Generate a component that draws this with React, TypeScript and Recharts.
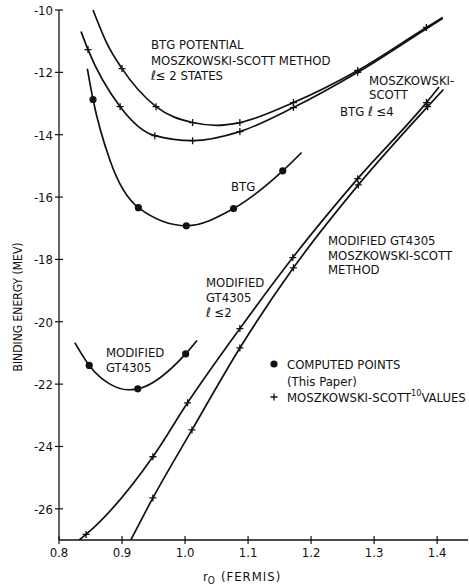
import React from 'react';
import { ComposedChart, Line, Scatter, XAxis, YAxis } from 'recharts';

// ---- axis ticks ----
const xTicks = [0.8, 0.9, 1.0, 1.1, 1.2, 1.3, 1.4];
const xTickLabels = ['0.8', '0.9', '1.0', '1.1', '1.2', '1.3', '1.4'];
const yTicks = [-10, -12, -14, -16, -18, -20, -22, -24, -26];
const yTickLabels = ['-10', '-12', '-14', '-16', '-18', '-20', '-22', '-24', '-26'];
const topTicks = [0.9, 1.0, 1.1, 1.2, 1.3, 1.4];
const rightTicks = [-12, -14, -16, -18, -20, -22, -24, -26];

// ---- BTG potential, Moszkowski-Scott method, l<=2 states (upper curve) ----
const btgL2Curve = [
  { x: 0.854, y: -10.0 }, { x: 0.876, y: -11.07 }, { x: 0.9, y: -11.88 },
  { x: 0.954, y: -13.1 }, { x: 1.012, y: -13.61 }, { x: 1.05, y: -13.7 },
  { x: 1.087, y: -13.61 }, { x: 1.172, y: -12.97 }, { x: 1.274, y: -11.94 },
  { x: 1.383, y: -10.56 }, { x: 1.409, y: -10.24 },
];
const btgL2Marks = [
  { x: 0.9, y: -11.88 }, { x: 0.954, y: -13.1 }, { x: 1.012, y: -13.61 },
  { x: 1.087, y: -13.61 }, { x: 1.172, y: -12.97 }, { x: 1.274, y: -11.94 },
  { x: 1.383, y: -10.56 },
];

// ---- Moszkowski-Scott BTG l<=4 (lower of upper pair) ----
const btgL4Curve = [
  { x: 0.835, y: -10.69 }, { x: 0.846, y: -11.27 }, { x: 0.897, y: -13.1 },
  { x: 0.952, y: -14.03 }, { x: 1.012, y: -14.19 }, { x: 1.087, y: -13.9 },
  { x: 1.172, y: -13.13 }, { x: 1.274, y: -12.0 }, { x: 1.383, y: -10.6 },
  { x: 1.409, y: -10.27 },
];
const btgL4Marks = [
  { x: 0.846, y: -11.27 }, { x: 0.897, y: -13.1 }, { x: 0.952, y: -14.03 },
  { x: 1.012, y: -14.19 }, { x: 1.087, y: -13.9 }, { x: 1.172, y: -13.13 },
  { x: 1.274, y: -12.0 },
];

// ---- BTG computed points ----
const btgCurve = [
  { x: 0.845, y: -11.88 }, { x: 0.854, y: -12.87 }, { x: 0.881, y: -14.83 },
  { x: 0.926, y: -16.34 }, { x: 1.002, y: -16.92 }, { x: 1.077, y: -16.37 },
  { x: 1.155, y: -15.16 }, { x: 1.185, y: -14.57 },
];
const btgDots = [
  { x: 0.854, y: -12.87 }, { x: 0.926, y: -16.34 }, { x: 1.002, y: -16.92 },
  { x: 1.077, y: -16.37 }, { x: 1.155, y: -15.16 },
];

// ---- Modified GT4305 computed points ----
const gtCurve = [
  { x: 0.825, y: -20.67 }, { x: 0.848, y: -21.4 }, { x: 0.881, y: -22.0 },
  { x: 0.909, y: -22.18 }, { x: 0.925, y: -22.15 }, { x: 1.001, y: -21.03 },
  { x: 1.019, y: -20.6 },
];
const gtDots = [
  { x: 0.848, y: -21.4 }, { x: 0.925, y: -22.15 }, { x: 1.001, y: -21.03 },
];

// ---- Modified GT4305 l<=2 (Moszkowski-Scott) ----
const gtL2Curve = [
  { x: 0.832, y: -27.0 }, { x: 0.843, y: -26.82 }, { x: 0.949, y: -24.33 },
  { x: 1.004, y: -22.6 }, { x: 1.087, y: -20.22 }, { x: 1.171, y: -17.94 },
  { x: 1.274, y: -15.41 }, { x: 1.383, y: -12.97 }, { x: 1.403, y: -12.47 },
];
const gtL2Marks = [
  { x: 0.843, y: -26.82 }, { x: 0.949, y: -24.33 }, { x: 1.004, y: -22.6 },
  { x: 1.087, y: -20.22 }, { x: 1.171, y: -17.94 }, { x: 1.274, y: -15.41 },
  { x: 1.383, y: -12.97 },
];

// ---- Modified GT4305, Moszkowski-Scott method ----
const gtMsCurve = [
  { x: 0.914, y: -27.0 }, { x: 0.949, y: -25.65 }, { x: 1.011, y: -23.47 },
  { x: 1.087, y: -20.84 }, { x: 1.172, y: -18.27 }, { x: 1.275, y: -15.61 },
  { x: 1.385, y: -13.1 }, { x: 1.41, y: -12.55 },
];
const gtMsMarks = [
  { x: 0.949, y: -25.65 }, { x: 1.011, y: -23.47 }, { x: 1.087, y: -20.84 },
  { x: 1.172, y: -18.27 }, { x: 1.275, y: -15.61 }, { x: 1.385, y: -13.1 },
];

const FONT = "'Liberation Sans Narrow', 'DejaVu Sans Condensed', 'Arial Narrow', 'Liberation Sans', sans-serif";
const INK = '#111';

const LeftTick = (p: any) => {
  const i = yTicks.indexOf(p.payload.value);
  return (
    <g>
      <line x1={p.x - 4} x2={p.x + 4} y1={p.y} y2={p.y} stroke={INK} strokeWidth={1.2} />
      <text x={p.x - 6} y={p.y + 5} textAnchor="end" fontSize={13} fontFamily={FONT} fill={INK}>
        {i >= 0 ? yTickLabels[i] : ''}
      </text>
    </g>
  );
};

const BottomTick = (p: any) => {
  const i = xTicks.indexOf(p.payload.value);
  return (
    <g>
      <line x1={p.x} x2={p.x} y1={p.y - 4} y2={p.y + 4} stroke={INK} strokeWidth={1.2} />
      <text x={p.x} y={p.y + 17} textAnchor="middle" fontSize={13} fontFamily={FONT} fill={INK}>
        {i >= 0 ? xTickLabels[i] : ''}
      </text>
    </g>
  );
};

const TopTick = (p: any) => (
  <line x1={p.x} x2={p.x} y1={p.y - 5} y2={p.y + 5} stroke={INK} strokeWidth={1.2} />
);

const RightTick = (p: any) => (
  <line x1={p.x - 5} x2={p.x + 2} y1={p.y} y2={p.y} stroke={INK} strokeWidth={1.2} />
);

const Dot = (p: any) => <circle cx={p.cx} cy={p.cy} r={3.6} fill={INK} />;
const Cross = (p: any) => (
  <path
    d={`M${p.cx - 3.5},${p.cy}H${p.cx + 3.5}M${p.cx},${p.cy - 3.5}V${p.cy + 3.5}`}
    stroke={INK}
    strokeWidth={1.3}
    fill="none"
  />
);

const lineProps = {
  type: 'monotone' as const,
  dataKey: 'y',
  stroke: INK,
  strokeWidth: 1.7,
  dot: false,
  activeDot: false,
  isAnimationActive: false,
  legendType: 'none' as const,
};

const T = (props: any) => (
  <text fontFamily={FONT} fontSize={13} fill={INK} {...props} />
);

export default function App() {
  return (
    <div style={{ position: 'absolute', left: 0, top: 0, width: 469, height: 588, background: '#fff' }}>
      <ComposedChart width={469} height={588} margin={{ top: 10, right: 1, bottom: 18, left: 0 }}>
        <XAxis
          xAxisId={0}
          dataKey="x"
          type="number"
          domain={[0.8, 1.449]}
          allowDataOverflow
          ticks={xTicks}
          interval={0}
          height={30}
          tickSize={0}
          tickMargin={0}
          tick={<BottomTick />}
          tickLine={false}
          axisLine={{ stroke: INK, strokeWidth: 1.3 }}
        />
        <XAxis
          xAxisId="top"
          orientation="top"
          type="number"
          domain={[0.8, 1.449]}
          allowDataOverflow
          ticks={topTicks}
          interval={0}
          height={0}
          tickSize={0}
          tickMargin={0}
          tick={<TopTick />}
          tickLine={false}
          axisLine={{ stroke: INK, strokeWidth: 1.3 }}
        />
        <YAxis
          yAxisId={0}
          dataKey="y"
          type="number"
          domain={[-27, -10]}
          allowDataOverflow
          ticks={yTicks}
          interval={0}
          width={59}
          tickSize={0}
          tickMargin={0}
          tick={<LeftTick />}
          tickLine={false}
          axisLine={{ stroke: INK, strokeWidth: 1.3 }}
        />
        <YAxis
          yAxisId="right"
          orientation="right"
          type="number"
          domain={[-27, -10]}
          allowDataOverflow
          ticks={rightTicks}
          interval={0}
          width={0}
          tickSize={0}
          tickMargin={0}
          tick={<RightTick />}
          tickLine={false}
          axisLine={false}
        />

        <Line {...lineProps} data={btgL2Curve} name="BTG l<=2" />
        <Line {...lineProps} data={btgL4Curve} name="BTG l<=4" />
        <Line {...lineProps} data={btgCurve} name="BTG" />
        <Line {...lineProps} data={gtCurve} name="Modified GT4305" />
        <Line {...lineProps} data={gtL2Curve} name="Modified GT4305 l<=2" />
        <Line {...lineProps} data={gtMsCurve} name="Modified GT4305 MS" />

        <Scatter data={btgL2Marks} dataKey="y" shape={<Cross />} isAnimationActive={false} legendType="none" />
        <Scatter data={btgL4Marks} dataKey="y" shape={<Cross />} isAnimationActive={false} legendType="none" />
        <Scatter data={gtL2Marks} dataKey="y" shape={<Cross />} isAnimationActive={false} legendType="none" />
        <Scatter data={gtMsMarks} dataKey="y" shape={<Cross />} isAnimationActive={false} legendType="none" />
        <Scatter data={btgDots} dataKey="y" shape={<Dot />} isAnimationActive={false} legendType="none" />
        <Scatter data={gtDots} dataKey="y" shape={<Dot />} isAnimationActive={false} legendType="none" />
      </ComposedChart>

      <svg
        width={469}
        height={588}
        style={{ position: 'absolute', left: 0, top: 0, pointerEvents: 'none' }}
      >
        <T x={151} y={49}>BTG POTENTIAL</T>
        <T x={151} y={65}>MOSZKOWSKI-SCOTT METHOD</T>
        <T x={151} y={80}>ℓ≤ 2 STATES</T>

        <T x={369} y={85}>MOSZKOWSKI-</T>
        <T x={369} y={99}>SCOTT</T>
        <T x={340} y={116}>BTG ℓ ≤4</T>

        <T x={231} y={191}>BTG</T>

        <T x={328} y={245}>MODIFIED GT4305</T>
        <T x={328} y={260}>MOSZKOWSKI-SCOTT</T>
        <T x={328} y={274}>METHOD</T>

        <T x={206} y={287}>MODIFIED</T>
        <T x={206} y={302}>GT4305</T>
        <T x={206} y={317}>ℓ ≤2</T>

        <T x={106} y={357}>MODIFIED</T>
        <T x={106} y={372}>GT4305</T>

        <circle cx={274} cy={364} r={3.6} fill={INK} />
        <T x={287} y={369}>COMPUTED POINTS</T>
        <T x={287} y={386}>(This Paper)</T>
        <path d="M270.5,397H277.5M274,393.5V400.5" stroke={INK} strokeWidth={1.3} />
        <T x={287} y={402}>
          MOSZKOWSKI-SCOTT
          <tspan fontSize={9} dy={-6}>10</tspan>
          <tspan dy={6}>VALUES</tspan>
        </T>

        <text
          x={0}
          y={0}
          transform="translate(22,307) rotate(-90)"
          textAnchor="middle"
          fontFamily={FONT}
          fontSize={12}
          fill={INK}
        >
          BINDING ENERGY (MEV)
        </text>

        <text x={203} y={581} fontFamily={FONT} fontSize={13} fill={INK}>
          r<tspan fontSize={10} dy={3}>O</tspan>
          <tspan dy={-3} dx={6} letterSpacing={1}>(FERMIS)</tspan>
        </text>
      </svg>
    </div>
  );
}
